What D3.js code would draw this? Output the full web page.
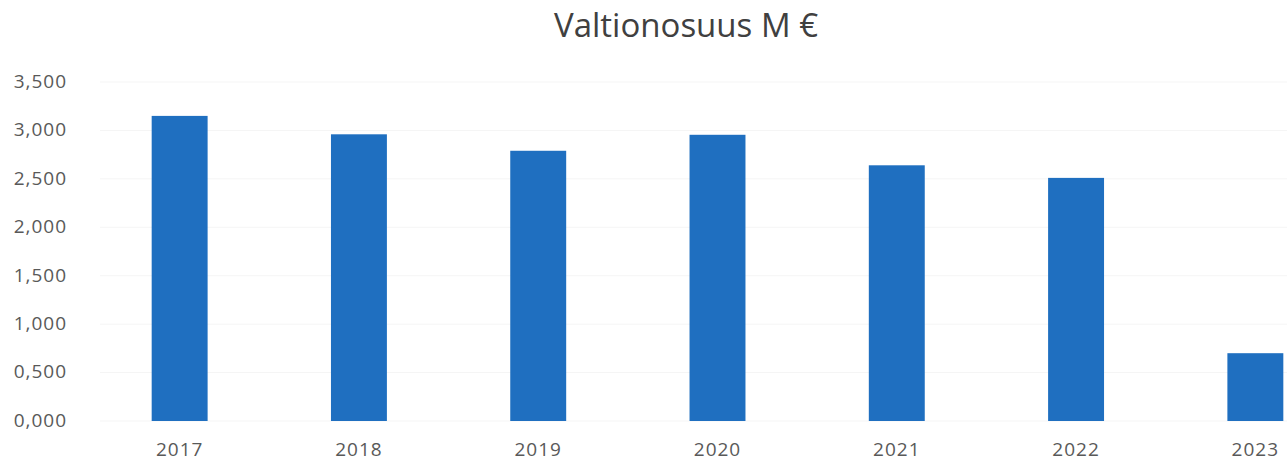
<!DOCTYPE html>
<html>
<head>
<meta charset="utf-8">
<script src="https://cdn.jsdelivr.net/npm/d3@7"></script>
<style>
  html, body { margin: 0; padding: 0; background: #fff; overflow: hidden; }
  svg { display: block; font-family: "Open Sans", sans-serif; }
</style>
</head>
<body>
<div id="chart"></div>
<script>
const years = ['2017', '2018', '2019', '2020', '2021', '2022', '2023'];
const values = [3.150, 2.960, 2.790, 2.955, 2.640, 2.510, 0.700];
const yTicks = [0, 0.5, 1, 1.5, 2, 2.5, 3, 3.5];
const title = 'Valtionosuus M €';

const W = 1287, H = 464;

const svg = d3.select('#chart').append('svg')
  .attr('width', W)
  .attr('height', H);

const x = d3.scaleBand()
  .domain(years)
  .range([90, 1345])
  .paddingInner(0.688)
  .paddingOuter(0.344);

const y = d3.scaleLinear()
  .domain([0, 3.5])
  .range([421, 82]);

const fmt = v => d3.format('.3f')(v).replace('.', ',');

// faint gridlines
svg.append('g')
  .selectAll('line')
  .data(yTicks)
  .join('line')
  .attr('x1', 100)
  .attr('x2', W)
  .attr('y1', d => y(d))
  .attr('y2', d => y(d))
  .attr('stroke', '#f5f5f5')
  .attr('stroke-width', 1);

// y axis
const yAxis = svg.append('g')
  .attr('transform', 'translate(67,0)')
  .call(d3.axisLeft(y).tickValues(yTicks).tickFormat(fmt).tickSize(0).tickPadding(0));
yAxis.select('.domain').remove();
yAxis.selectAll('text')
  .attr('font-size', 19)
  .attr('letter-spacing', 1)
  .attr('dy', '0.28em')
  .attr('font-family', '"Open Sans", sans-serif')
  .attr('fill', '#595959');

// x axis
const xAxis = svg.append('g')
  .attr('transform', 'translate(0,421)')
  .call(d3.axisBottom(x).tickSize(0).tickPadding(22));
xAxis.select('.domain').remove();
xAxis.selectAll('text')
  .attr('font-size', 19)
  .attr('letter-spacing', 1)
  .attr('font-family', '"Open Sans", sans-serif')
  .attr('fill', '#595959');

// bars
svg.append('g')
  .selectAll('rect')
  .data(years.map((yr, i) => ({ yr, v: values[i] })))
  .join('rect')
  .attr('x', d => x(d.yr))
  .attr('y', d => y(d.v))
  .attr('width', x.bandwidth())
  .attr('height', d => y(0) - y(d.v))
  .attr('fill', '#1f6fc0');

// title
svg.append('text')
  .attr('x', 686)
  .attr('y', 37)
  .attr('text-anchor', 'middle')
  .attr('font-size', 33)
  .attr('fill', '#404040')
  .text(title);
</script>
</body>
</html>
